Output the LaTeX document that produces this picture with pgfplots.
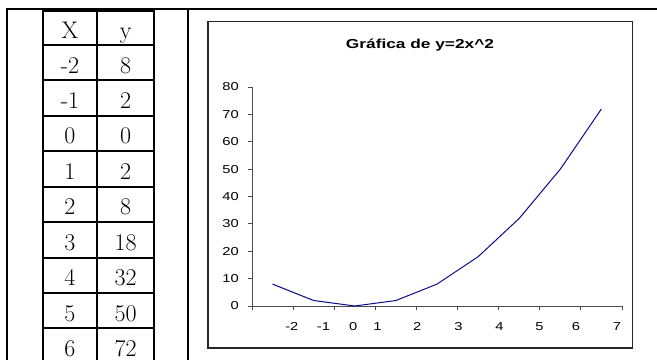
\documentclass[border=0pt]{standalone}
\usepackage{fontspec}
\usepackage{graphicx}
\usepackage{pgfplots}
\pgfplotsset{compat=1.18}
\newfontfamily\arial{Liberation Sans}
\newcommand\sx[1]{\scalebox{1.28}[1]{#1}}
\definecolor{navyline}{RGB}{10,10,140}
\begin{document}
\begin{tikzpicture}[x=1pt,y=1pt]
\useasboundingbox (0,0) rectangle (657,360);
% outer table
\draw[line width=2pt] (6,351.5) -- (657,351.5);
\draw[line width=2pt] (7.3,352.5) -- (7.3,0);
\draw[line width=2pt] (188.3,352.5) -- (188.3,0);
% inner table
\foreach \xx in {42.7,97.3,154} \draw[line width=2pt] (\xx,350) -- (\xx,0);
\foreach \yy in {349,314.7,280,244.3,209,173.3,137.7,102.3,66.7,31.7}
  \draw[line width=2pt] (41.7,\yy) -- (155,\yy);
\begin{scope}[every node/.style={anchor=base,inner sep=0pt,font=\fontsize{24}{28}\selectfont}]
\node at (70,321.7) {X};
\node at (125.6,321.7) {y};
\foreach \a/\b/\yy in {-2/8/286.7,-1/2/252,0/0/216.3,1/2/181,2/8/145.3,3/18/109.7,4/32/74.3,5/50/38.7,6/72/3.7}{
  \node at (70,\yy) {\a};
  \node at (125.6,\yy) {\b};
}
\end{scope}
% chart frame
\draw[line width=1.3pt,black!85] (208,338.3) rectangle (632.7,12);
\node[font=\arial\bfseries\fontsize{13}{15}\selectfont,inner sep=0pt] at (420,315) {\scalebox{1.33}[1]{Gráfica de y=2x\^{}2}};
\begin{axis}[
  at={(252pt,54pt)}, anchor=south west,
  scale only axis, width=370pt, height=219pt,
  xmin=0.5, xmax=9.5, ymin=0, ymax=80,
  axis x line=bottom, axis y line=left,
  axis line style={-, black!70, line width=0.8pt},
  tick style={black!70, line width=0.8pt},
  tick align=outside, major tick length=4pt,
  xtick={0.5,1.5,...,9.5}, xticklabels={},
  extra x ticks={1.47,2.24,2.96,3.55,4.52,5.52,6.52,7.49,8.38,9.38},
  extra x tick labels={\sx{-2},\sx{-1},\sx{0},\sx{1},\sx{2},\sx{3},\sx{4},\sx{5},\sx{6},\sx{7}},
  extra x tick style={major tick length=0pt, tick style={draw=none}},
  ytick={0,10,...,80},
  yticklabels={\sx{0},\sx{10},\sx{20},\sx{30},\sx{40},\sx{50},\sx{60},\sx{70},\sx{80}},
  tick label style={font=\arial\fontsize{11.5}{13}\selectfont, inner sep=0pt},
  xticklabel style={anchor=north, yshift=-16pt},
  yticklabel style={anchor=east, xshift=-9pt},
]
\addplot[color=navyline, line width=1pt] coordinates {(1,8)(2,2)(3,0)(4,2)(5,8)(6,18)(7,32)(8,50)(9,72)};
\end{axis}
\end{tikzpicture}
\end{document}
